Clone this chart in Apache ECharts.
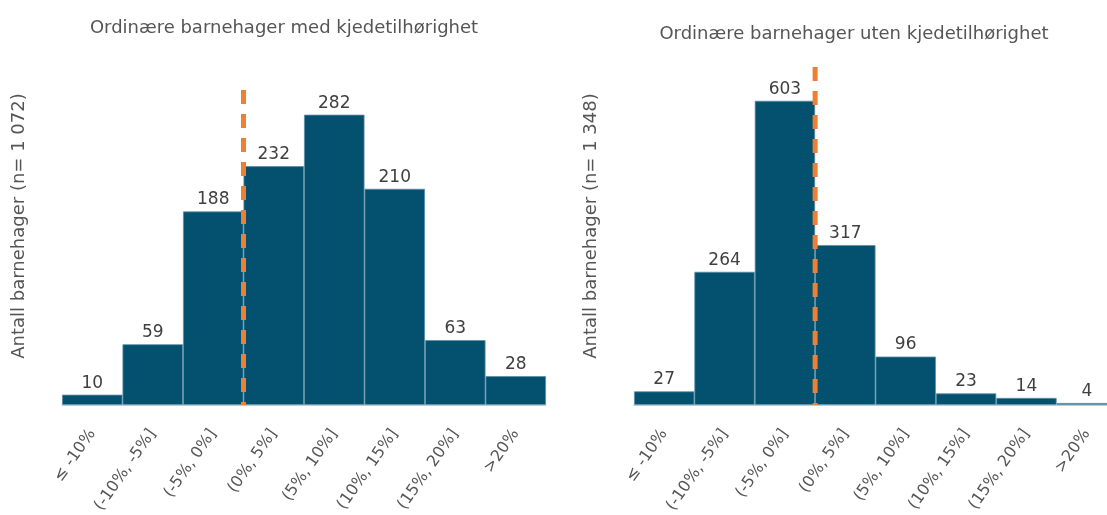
<!DOCTYPE html>
<html>
<head>
<meta charset="utf-8">
<script src="https://cdn.jsdelivr.net/npm/echarts@6/dist/echarts.min.js"></script>
<style>
  html, body { margin: 0; padding: 0; background: #fff; }
  #chart { width: 1107px; height: 515px; }
</style>
</head>
<body>
<div id="chart"></div>
<script>
// intervaller for endring
const categories = ['≤ -10%', '(-10%, -5%]', '(-5%, 0%]', '(0%, 5%]', '(5%, 10%]', '(10%, 15%]', '(15%, 20%]', '>20%'];
// antall barnehager per intervall
const medKjede = [10, 59, 188, 232, 282, 210, 63, 28];
const utenKjede = [27, 264, 603, 317, 96, 23, 14, 4];
const titles = ['Ordinære barnehager med kjedetilhørighet', 'Ordinære barnehager uten kjedetilhørighet'];
const yNames = ['Antall barnehager (n= 1 072)', 'Antall barnehager (n= 1 348)'];
// skillelinje ved 0 %: grensen etter tredje intervall
const zeroBoundary = 3;
const yMax = [306, 670];

const FONT = 'DejaVu Sans';
const barColor = '#03516f';
const lineColor = '#ef7f31';

const chart = echarts.init(document.getElementById('chart'));

function xAx(i) {
  return {
    type: 'category', gridIndex: i, data: categories,
    axisLine: { show: true, lineStyle: { color: '#c9cfd3', width: 1 } },
    axisTick: { show: false },
    axisLabel: {
      rotate: 55, margin: 26, interval: 0,
      fontFamily: FONT, fontSize: 16, color: '#555'
    }
  };
}
// skjult verdiakse (0..antall intervaller) for å plassere skillelinjen på en grense
function xBoundAx(i) {
  return {
    type: 'value', gridIndex: i, min: 0, max: categories.length,
    show: false
  };
}
function yAx(i, max) {
  return {
    type: 'value', gridIndex: i, min: 0, max: max,
    axisLine: { show: false }, axisTick: { show: false },
    axisLabel: { show: false }, splitLine: { show: false }
  };
}
function barSeries(i, data) {
  return {
    type: 'bar', xAxisIndex: i, yAxisIndex: i, data: data,
    barCategoryGap: '0%',
    itemStyle: { color: barColor, borderColor: '#5d8ea6', borderWidth: 0.8 },
    label: {
      show: true, position: 'top', distance: 3,
      fontFamily: FONT, fontSize: 17, color: '#404040'
    }
  };
}
function zeroSeries(i) {
  return {
    type: 'line', xAxisIndex: 2 + i, yAxisIndex: i,
    data: [[zeroBoundary, yMax[i]], [zeroBoundary, 0]],
    symbol: 'none', silent: true, z: 5,
    lineStyle: { color: lineColor, type: [14, 10], width: 5 }
  };
}

chart.setOption({
  animation: false,
  title: [
    { text: titles[0], left: 279, top: 14, textAlign: 'center',
      textStyle: { fontFamily: FONT, fontSize: 18, fontWeight: 'normal', color: '#555' } },
    { text: titles[1], left: 849, top: 20, textAlign: 'center',
      textStyle: { fontFamily: FONT, fontSize: 18, fontWeight: 'normal', color: '#555' } }
  ],
  grid: [
    { left: 62, top: 90, width: 484, height: 315, outerBoundsMode: 'none', containLabel: false },
    { left: 634, top: 67, width: 483, height: 338, outerBoundsMode: 'none', containLabel: false }
  ],
  xAxis: [xAx(0), xAx(1), xBoundAx(0), xBoundAx(1)],
  yAxis: [yAx(0, yMax[0]), yAx(1, yMax[1])],
  series: [barSeries(0, medKjede), barSeries(1, utenKjede), zeroSeries(0), zeroSeries(1)],
  graphic: [
    { type: 'text', x: 10, y: 226, rotation: Math.PI / 2,
      style: { text: yNames[0], fontFamily: FONT, fontSize: 18, fill: '#555',
               align: 'center', verticalAlign: 'top' } },
    { type: 'text', x: 582, y: 226, rotation: Math.PI / 2,
      style: { text: yNames[1], fontFamily: FONT, fontSize: 18, fill: '#555',
               align: 'center', verticalAlign: 'top' } }
  ]
});
</script>
</body>
</html>
